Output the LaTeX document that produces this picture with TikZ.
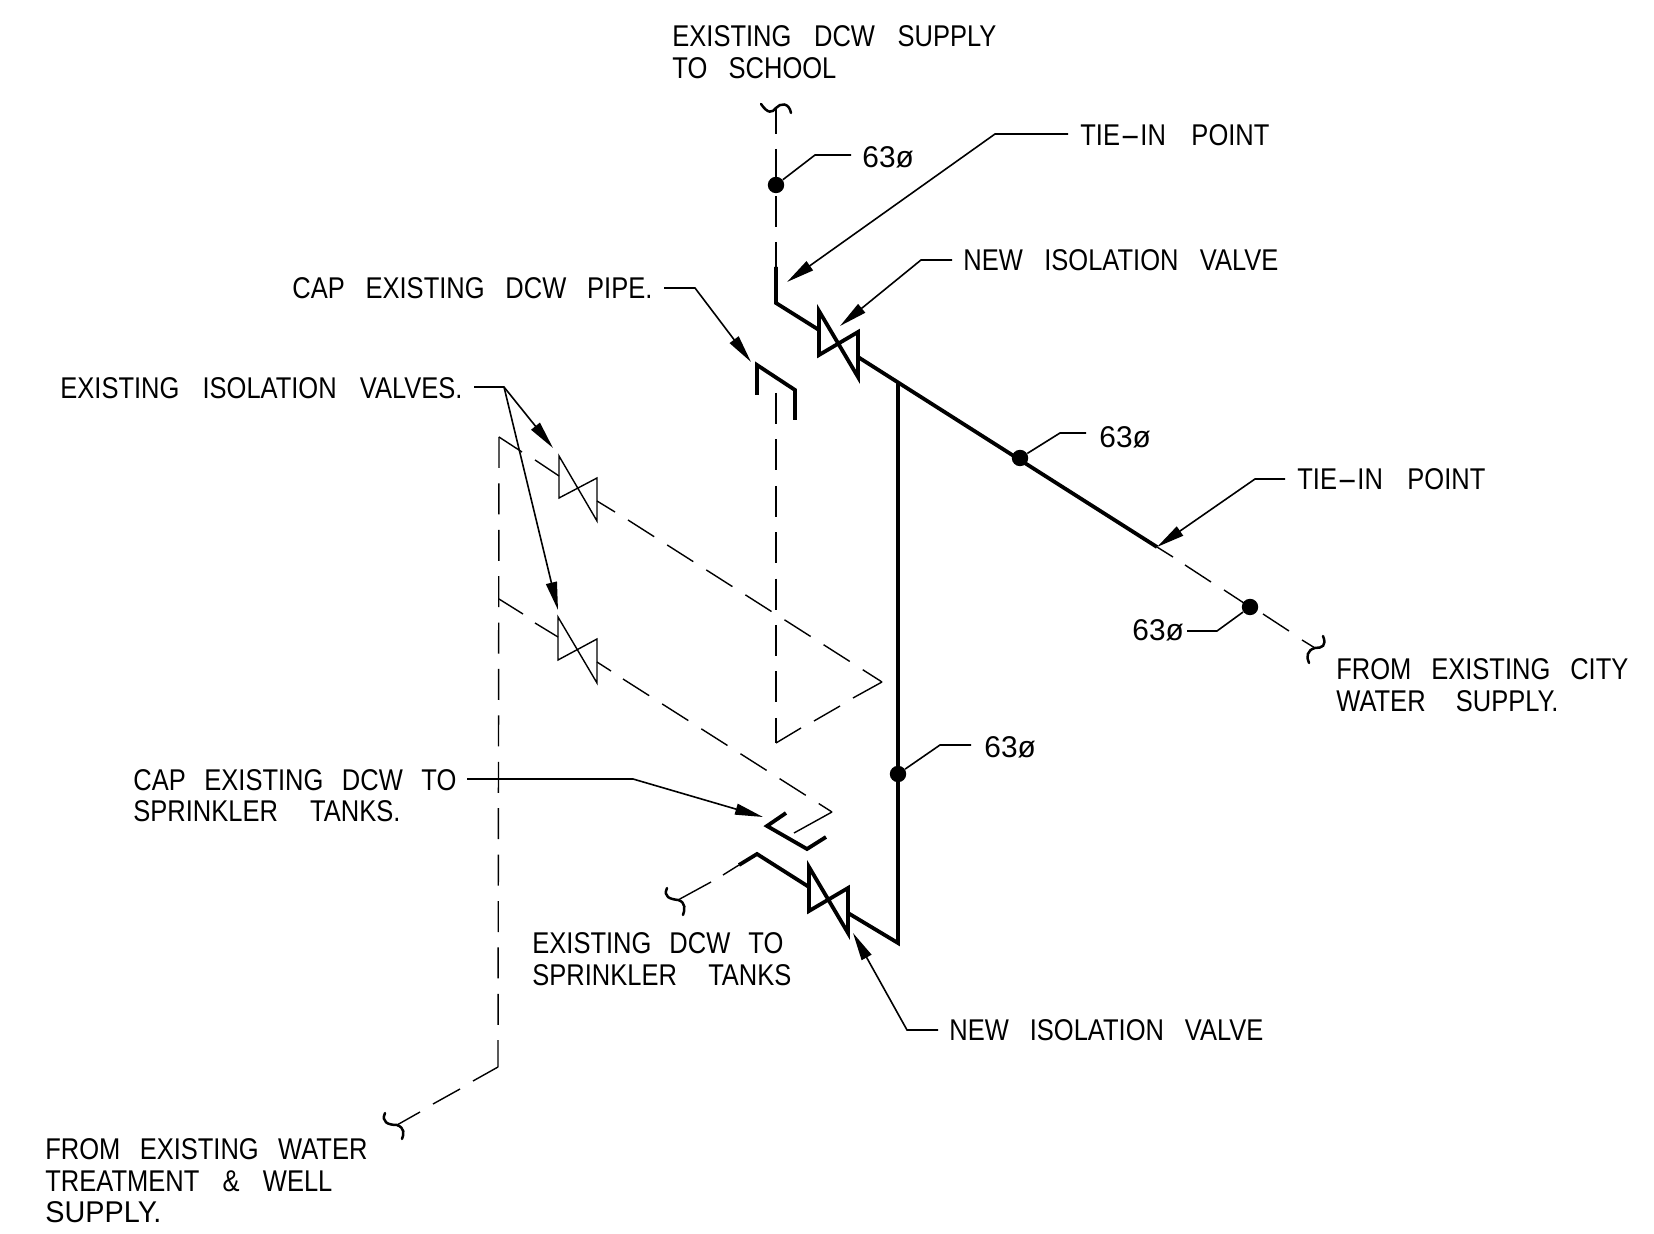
\documentclass[tikz,border=0pt]{standalone}
\usepackage{fontspec}
\usepackage{graphicx}
\setmainfont[FakeStretch=0.85]{Liberation Sans}
\usetikzlibrary{arrows.meta}
\newcommand\fitw[2]{\makebox[\dimexpr #1pt/2\relax][s]{#2}}
\newcommand\widehyph{\scalebox{2.4}[1]{-}}
\tikzset{
  thinpipe/.style={line width=0.7pt,line join=miter},
  thickpipe/.style={line width=1.9pt,line join=miter},
  dashpipe/.style={thinpipe,dash pattern=on 15.5pt off 7.7pt},
  breakmark/.style={line width=1.25pt,line cap=round},
  leader/.style={line width=0.8pt},
  arrowed/.style={leader,-{Triangle[length=14pt,width=5.5pt]}},
  dotmark/.style={circle,fill=black,inner sep=0pt,minimum size=8.2pt},
  txt/.style={anchor=west,inner sep=0pt,align=left,font=\fontsize{15}{15.75}\selectfont}
}
\begin{document}
\begin{tikzpicture}[x=0.5pt,y=-0.5pt]
\useasboundingbox (0,0) rectangle (1654,1234);
% ---- main coordinates
\coordinate (topEnd) at (776,108);
\coordinate (thickTop) at (776,267);
\coordinate (elbowA) at (776,303);
\coordinate (valveAin) at (819,330);
\coordinate (valveAout) at (858,357);
\coordinate (branch) at (898,382);
\coordinate (tieB) at (1157,547);
\coordinate (corner) at (898,943);
\coordinate (valveBout) at (848,913);
\coordinate (valveBin) at (809,887);
\coordinate (elbowB) at (757,854);
\coordinate (thickEnd) at (739,865);
% ---- new thick pipes and valves
\draw[thickpipe] (thickTop) -- (elbowA) -- (valveAin);
\draw[thickpipe] (819,311) -- (858,377) -- (858,332) -- (819,355) -- cycle;
\draw[thickpipe] (valveAout) -- (tieB);
\draw[thickpipe] (branch) -- (corner) -- (valveBout);
\draw[thickpipe] (809,867) -- (848,933) -- (848,888) -- (809,911) -- cycle;
\draw[thickpipe] (valveBin) -- (elbowB) -- (thickEnd);
% ---- caps
\draw[thickpipe] (757,395) -- (757,365) -- (795,390) -- (795,420);
\draw[thickpipe] (786,813) -- (767,826) -- (807,849) -- (826,837);
% ---- top dashed run
\draw[thinpipe] (topEnd) -- (776,134) (776,149) -- (776,181) (776,196) -- (776,227) (776,242) -- (thickTop);
\draw[breakmark] (761,104) .. controls (768,114) and (772,113) .. (topEnd) .. controls (780,103) and (789,102) .. (791,113);
% ---- city water run
\draw[thinpipe] (tieB) -- (1173,557) (1185,565) -- (1211,582) (1224,590) -- (1250,607) (1263,614) -- (1289,631) (1302,640) -- (1315,648);
\draw[breakmark] (1323,636) .. controls (1327,646) and (1322,648) .. (1315,648) .. controls (1307,650) and (1306,657) .. (1309,663);
% ---- sprinkler tank run
\draw[thinpipe] (thickEnd) -- (723,875) (711,882) -- (678,900);
\draw[breakmark] (667,888) .. controls (663,897) and (670,899) .. (678,900) .. controls (686,902) and (685,910) .. (683,915);
% ---- existing valves
\draw[thinpipe] (559,456) -- (597,521) -- (597,478) -- (559,498) -- cycle;
\draw[thinpipe] (558,617) -- (597,683) -- (597,639) -- (558,660) -- cycle;
% ---- existing dashed pipework
\coordinate (riserTop) at (499,437);
\coordinate (riserBot) at (498,1067);
\coordinate (riserTee) at (499,599);
\coordinate (apexA) at (882,682);
\coordinate (apexB) at (832,812);
\coordinate (riserB) at (776,743);
\draw[dashpipe] (riserTop) -- (riserBot);
\draw[thinpipe] (riserTop) -- (522,452) (535,460) -- (559,476);
\draw[thinpipe] (riserTee) -- (523,614) (535,623) -- (558,637);
\draw[thinpipe] (597,501) -- (615,512);
\draw[dashpipe] (628,520) -- (apexA);
\draw[thinpipe] (597,662) -- (611,671);
\draw[dashpipe] (623,679) -- (apexB);
\draw[thinpipe] (apexB) -- (794,833);
\draw[dashpipe] (776,393) -- (riserB);
\draw[thinpipe] (riserB) -- (801,728) (814,721) -- (840,706) (853,698) -- (apexA);
\draw[thinpipe] (riserBot) -- (473,1081) (460,1089) -- (433,1104) (420,1112) -- (397,1125);
\draw[breakmark] (385,1113) .. controls (381,1122) and (388,1125) .. (397,1125) .. controls (405,1128) and (404,1134) .. (402,1139);
% ---- size dots
\node[dotmark] (dotA) at (776,185) {};
\node[dotmark] (dotB) at (1020,458) {};
\node[dotmark] (dotC) at (1250,607) {};
\node[dotmark] (dotD) at (898,774) {};
% ---- text
\node[txt] (tTop) at (672,52) {\fitw{324}{EXISTING DCW SUPPLY}\\\fitw{164}{TO SCHOOL}};
\node[txt] (tTieA) at (1080,135) {\fitw{189}{TIE\widehyph IN POINT}};
\node[txt] (tValveA) at (963,260.5) {\fitw{315}{NEW ISOLATION VALVE}};
\node[txt] (tCapA) at (292,288) {\fitw{360}{CAP EXISTING DCW PIPE.}};
\node[txt] (tExist) at (60,388) {\fitw{402}{EXISTING ISOLATION VALVES.}};
\node[txt] (tTieB) at (1297,479) {\fitw{188}{TIE\widehyph IN POINT}};
\node[txt] (tCity) at (1336,685) {\fitw{292}{FROM EXISTING CITY}\\\fitw{222}{WATER SUPPLY.}};
\node[txt] (tCapB) at (133,795.5) {\fitw{323}{CAP EXISTING DCW TO}\\\fitw{267}{SPRINKLER TANKS.}};
\node[txt] (tSpr) at (532,959) {\fitw{251}{EXISTING DCW TO}\\\fitw{259}{SPRINKLER TANKS}};
\node[txt] (tValveB) at (949,1030) {\fitw{314}{NEW ISOLATION VALVE}};
\node[txt] (tWell) at (45,1181) {\fitw{322}{FROM EXISTING WATER}\\\fitw{287}{TREATMENT \& WELL}\\\scalebox{1.13}[1]{SUPPLY.}};
\node[txt] (sA) at (862,157.5) {\scalebox{1.17}[1]{63ø}};
\node[txt] (sB) at (1099,437) {\scalebox{1.17}[1]{63ø}};
\node[txt] (sC) at (1132,630) {\scalebox{1.17}[1]{63ø}};
\node[txt] (sD) at (984,747) {\scalebox{1.17}[1]{63ø}};
% ---- leaders
\coordinate (lTieA) at (1068,134);
\coordinate (lTieAe) at (995,134);
\coordinate (tipTieA) at (787,282);
\draw[arrowed] (lTieA) -- (lTieAe) -- (tipTieA);
\coordinate (lValA) at (952,260);
\coordinate (lValAe) at (921,260);
\coordinate (tipValA) at (840,326);
\draw[arrowed] (lValA) -- (lValAe) -- (tipValA);
\coordinate (lCapA) at (664,288);
\coordinate (lCapAe) at (695,288);
\coordinate (tipCapA) at (751,362);
\draw[arrowed] (lCapA) -- (lCapAe) -- (tipCapA);
\coordinate (lEx) at (474,387);
\coordinate (lExe) at (504,387);
\coordinate (tipExA) at (553,448);
\coordinate (tipExB) at (558,610);
\draw[arrowed] (lEx) -- (lExe) -- (tipExA);
\draw[arrowed] (lExe) -- (tipExB);
\coordinate (lTieB) at (1285,479);
\coordinate (lTieBe) at (1255,479);
\draw[arrowed] (lTieB) -- (lTieBe) -- (tieB);
\coordinate (lCapB) at (467,779);
\coordinate (lCapBe) at (633,779);
\coordinate (tipCapB) at (763,817);
\draw[arrowed] (lCapB) -- (lCapBe) -- (tipCapB);
\coordinate (lValB) at (938,1030);
\coordinate (lValBe) at (907,1030);
\coordinate (tipValB) at (853,933);
\draw[arrowed] (lValB) -- (lValBe) -- (tipValB);
\coordinate (lsA) at (851,155);
\coordinate (lsAe) at (815,155);
\draw[leader] (lsA) -- (lsAe) -- (dotA);
\coordinate (lsB) at (1086,433);
\coordinate (lsBe) at (1060,433);
\draw[leader] (lsB) -- (lsBe) -- (dotB);
\coordinate (lsC) at (1187,631);
\coordinate (lsCe) at (1217,631);
\draw[leader] (lsC) -- (lsCe) -- (dotC);
\coordinate (lsD) at (971,745);
\coordinate (lsDe) at (940,745);
\draw[leader] (lsD) -- (lsDe) -- (dotD);
\end{tikzpicture}
\end{document}
